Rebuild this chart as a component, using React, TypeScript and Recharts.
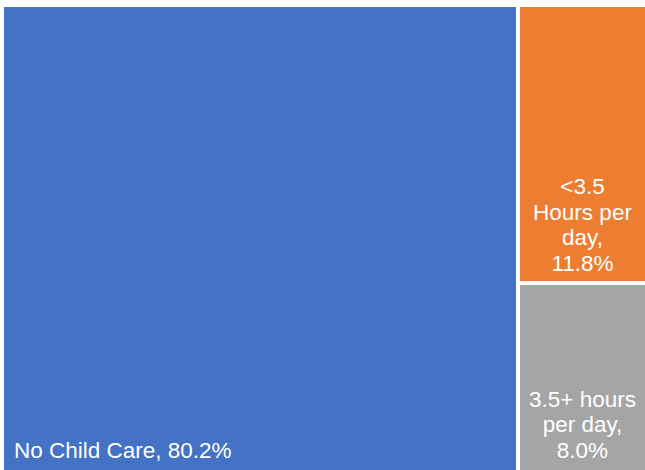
import { Treemap } from "recharts";

const categories = ["No Child Care", "<3.5 Hours per day", "3.5+ hours per day"];
const shares = [80.2, 11.8, 8.0];
// how the labels wrap inside each tile
const labelLines = [
  ["No Child Care, 80.2%"],
  ["<3.5", "Hours per", "day,", "11.8%"],
  ["3.5+ hours", "per day,", "8.0%"],
];

const COLORS = ["#4472C4", "#ED7D31", "#A5A5A5"];

const data = categories.map((name, i) => ({ name, value: shares[i] }));

const W = 641;
const H = 463;
const GAP = 2;
const FONT = "'Liberation Sans', Arial, sans-serif";

const Tile = (props: any) => {
  const { x, y, width, height, depth, index } = props;
  if (depth !== 1) return <g />;
  const lines = labelLines[index] || [];
  const alignLeft = lines.length === 1;
  // white gaps only between tiles, not on the outer border
  const l = x <= 0.5 ? x : x + GAP;
  const t = y <= 0.5 ? y : y + GAP;
  const r = x + width >= W - 0.5 ? x + width : x + width - GAP;
  const b = y + height >= H - 0.5 ? y + height : y + height - GAP;
  const base = y + height - 12.5;
  const lh = 25.5;
  return (
    <g>
      <rect x={l} y={t} width={r - l} height={b - t} fill={COLORS[index]} />
      {lines.map((s: string, i: number) => (
        <text
          key={i}
          x={alignLeft ? x + 10 : (l + r) / 2}
          y={base - (lines.length - 1 - i) * lh}
          textAnchor={alignLeft ? "start" : "middle"}
          fill="#fff"
          fontSize={22.5}
          fontFamily={FONT}
        >
          {s}
        </text>
      ))}
    </g>
  );
};

export default function App() {
  return (
    <div style={{ position: "absolute", left: 0, top: 0, width: 645, height: 470, overflow: "hidden", background: "#fff" }}>
      <div style={{ position: "absolute", left: 4, top: 7, width: W, height: H }}>
        <Treemap
          width={W}
          height={H}
          data={data}
          dataKey="value"
          nameKey="name"
          content={<Tile />}
          isAnimationActive={false}
        />
      </div>
    </div>
  );
}
